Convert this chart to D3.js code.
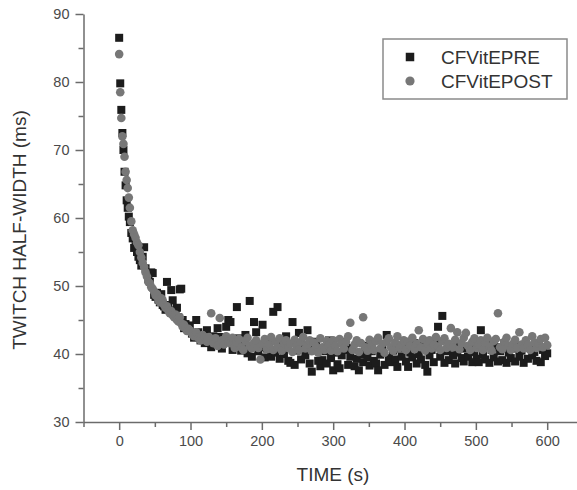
<!DOCTYPE html>
<html>
<head>
<meta charset="utf-8">
<script src="https://cdn.jsdelivr.net/npm/d3@7"></script>
<style>
  body { margin: 0; background: #fff; }
  text { font-family: "Liberation Sans", Arial, sans-serif; }
</style>
</head>
<body>
<div id="grafica"></div>
<script>
// sample times (s), shared by both series
var times = [
  0, 1.5, 3, 4.5, 6, 7.5, 9, 10.5, 12, 13.5, 15,
  17, 19, 21, 23, 25, 27, 29, 31, 33, 35, 37, 39, 41, 43, 45, 47, 49, 51, 53, 55, 57, 59, 61, 63, 65, 67, 69, 71, 73, 75, 77, 79, 81, 83, 85, 87, 89, 91, 93, 95, 97, 99,
  102, 105, 108, 111, 114, 117, 120, 123, 126, 129, 132, 135, 138, 141, 144, 147, 150, 153, 156, 159, 162, 165, 168, 171, 174, 177, 180, 183, 186, 189, 192, 195, 198,
  201, 204, 207, 210, 213, 216, 219, 222, 225, 228, 231, 234, 237, 240, 243, 246, 249, 252, 255, 258, 261, 264, 267, 270, 273, 276, 279, 282, 285, 288, 291, 294, 297, 300,
  303, 306, 309, 312, 315, 318, 321, 324, 327, 330, 333, 336, 339, 342, 345, 348, 351, 354, 357, 360, 363, 366, 369, 372, 375, 378, 381, 384, 387, 390, 393, 396, 399,
  402, 405, 408, 411, 414, 417, 420, 423, 426, 429, 432, 435, 438, 441, 444, 447, 450, 453, 456, 459, 462, 465, 468, 471, 474, 477, 480, 483, 486, 489, 492, 495, 498, 501,
  504, 507, 510, 513, 516, 519, 522, 525, 528, 531, 534, 537, 540, 543, 546, 549, 552, 555, 558, 561, 564, 567, 570, 573, 576, 579, 582, 585, 588, 591, 594, 597, 600
];

// CFVitEPRE (ms)
var preValues = [
  86.5, 79.8, 75.9, 72.5, 70.0, 66.8, 64.8, 62.6, 61.5, 60.2, 59.4,
  57.8, 57.0, 55.6, 56.2, 55.0, 54.3, 53.8, 53.0, 54.3, 55.7, 52.6, 51.8, 51.0, 50.6, 52.0, 51.9, 48.7, 48.4, 49.0, 48.0, 47.6, 48.8, 47.2, 47.0, 46.5, 50.6, 47.2, 46.4, 49.4, 47.9, 46.0, 45.8, 46.8, 45.4, 49.5, 49.6, 45.0, 43.8, 44.4, 44.0, 43.5, 44.2,
  43.0, 42.4, 45.0, 43.2, 42.0, 42.8, 41.6, 43.5, 42.2, 41.0, 42.6, 41.8, 43.8, 42.5, 40.8, 41.9, 44.0, 45.0, 44.7, 40.6, 41.5, 46.9, 42.3, 40.5, 41.2, 42.8, 40.1, 47.8, 39.6, 44.7, 43.2, 40.4, 41.0,
  44.3, 39.5, 40.8, 41.6, 39.6, 46.2, 40.2, 46.9, 39.3, 41.4, 40.0, 42.6, 39.0, 38.7, 44.7, 38.4, 40.5, 43.1, 39.2, 41.0, 39.8, 43.5, 38.6, 37.4, 40.6, 41.8, 39.0, 38.2, 39.1, 40.4, 38.6, 42.0, 39.4, 37.6,
  40.2, 38.5, 37.9, 39.8, 41.8, 40.6, 38.4, 39.6, 40.9, 38.2, 39.3, 37.6, 40.0, 38.8, 41.2, 39.5, 38.3, 40.4, 39.0, 38.6, 37.6, 39.9, 40.6, 38.4, 42.8, 39.4, 38.8, 40.5, 39.2, 38.1, 40.8, 39.6, 41.0,
  38.9, 38.1, 40.2, 39.5, 41.6, 38.6, 40.0, 39.2, 41.2, 38.4, 37.4, 39.8, 40.6, 38.8, 41.5, 44.0, 39.6, 45.6, 38.7, 40.4, 39.1, 41.0, 39.8, 38.6, 40.2, 41.4, 39.4, 38.9, 40.8, 39.6, 41.1, 38.8, 40.3, 39.3,
  38.8, 43.5, 40.0, 39.2, 41.3, 38.7, 40.6, 39.5, 41.0, 38.9, 40.4, 39.1, 41.6, 38.7, 40.2, 39.4, 40.8, 38.9, 41.2, 39.6, 40.5, 38.7, 40.9, 39.3, 41.0, 39.8, 40.3, 39.0, 41.3, 38.8, 40.6, 39.7, 40.1
];

// CFVitEPOST (ms)
var postValues = [
  84.1, 78.5, 74.7, 72.0, 70.9, 69.0, 66.8, 65.6, 64.4, 63.0, 61.5,
  59.5, 58.2, 57.6, 57.1, 56.4, 56.0, 55.0, 54.2, 53.4, 52.8, 52.0, 51.4, 50.6, 50.4, 49.8, 49.6, 49.2, 48.6, 48.8, 48.0, 47.6, 48.2, 47.9, 47.2, 46.8, 47.0, 46.4, 46.0, 46.3, 45.7, 45.4, 45.8, 45.0, 44.8, 45.4, 44.5, 44.0, 44.3, 43.8, 43.4, 43.7, 43.5,
  43.0, 42.6, 43.2, 42.4, 42.0, 42.8, 42.5, 41.8, 42.5, 46.0, 41.6, 42.3, 41.2, 45.3, 42.0, 41.4, 42.6, 41.8, 41.6, 42.4, 40.9, 41.7, 42.2, 41.0, 40.6, 41.9, 42.4, 41.2, 40.8, 41.6, 42.0, 40.9, 39.2,
  41.5, 42.2, 40.7, 41.4, 42.5, 40.6, 41.8, 41.0, 42.3, 40.5, 41.6, 42.0, 40.9, 41.5, 40.3, 42.1, 41.2, 40.6, 41.8, 42.5, 40.8, 41.4, 42.0, 40.4, 41.7, 41.1, 40.2, 42.3, 41.0, 40.6, 41.9, 41.3, 40.5, 42.0,
  41.2, 40.4, 42.2, 41.5, 40.8, 41.8, 42.6, 44.6, 40.6, 41.4, 42.0, 40.3, 41.6, 45.4, 41.0, 40.5, 42.1, 41.3, 40.6, 41.9, 42.4, 40.8, 41.5, 40.2, 41.8, 42.3, 41.0, 40.5, 41.7, 42.6, 40.9, 41.4, 42.0,
  40.6, 41.8, 41.2, 42.4, 40.7, 41.5, 43.5, 41.0, 42.2, 40.5, 41.6, 42.0, 40.8, 41.4, 42.5, 41.1, 40.6, 41.9, 42.3, 40.9, 41.5, 43.8, 41.0, 42.1, 43.2, 40.7, 41.6, 42.4, 43.1, 41.2, 40.6, 41.8, 42.3, 40.9,
  41.4, 42.0, 40.6, 41.7, 42.4, 41.1, 40.5, 41.9, 42.2, 46.0, 41.0, 40.7, 41.8, 42.4, 41.2, 40.6, 41.5, 42.1, 40.9, 43.2, 41.4, 40.8, 42.0, 41.3, 40.6, 42.6, 41.7, 40.9, 41.5, 42.2, 41.0, 42.4, 41.3
];

var xTicks = [0, 100, 200, 300, 400, 500, 600];
var xMinor = [-50, 50, 150, 250, 350, 450, 550];
var yTicks = [30, 40, 50, 60, 70, 80, 90];
var yMinor = [35, 45, 55, 65, 75, 85];
var seriesNames = ["CFVitEPRE", "CFVitEPOST"];

var W = 577, H = 490;
var axisColor = "#6b6b6b", textColor = "#4a4a4a";
var preColor = "#1c1c1c", postColor = "#777777";

var svg = d3.select("#grafica").append("svg")
    .attr("width", W)
    .attr("height", H);

var x = d3.scaleLinear().domain([-50, 645]).range([83.5, 579.3]);
var y = d3.scaleLinear().domain([30, 90]).range([422, 14]);

var pre = times.map(function(t, i) { return {t: t, v: preValues[i]}; });
var post = times.map(function(t, i) { return {t: t, v: postValues[i]}; });

// points
var sq = 8;
svg.append("g").selectAll("rect")
  .data(pre)
  .enter().append("rect")
    .attr("x", function(d) { return x(d.t) - sq / 2; })
    .attr("y", function(d) { return y(d.v) - sq / 2; })
    .attr("width", sq)
    .attr("height", sq)
    .style("fill", preColor);

svg.append("g").selectAll("circle")
  .data(post)
  .enter().append("circle")
    .attr("cx", function(d) { return x(d.t); })
    .attr("cy", function(d) { return y(d.v); })
    .attr("r", 4.3)
    .style("fill", postColor);

// x axis
var xAxis = svg.append("g")
    .attr("transform", "translate(0," + y(30) + ")")
    .call(d3.axisBottom(x).tickValues(xTicks).tickSize(8).tickPadding(6).tickSizeOuter(0));
svg.append("g")
    .attr("transform", "translate(0," + y(30) + ")")
    .call(d3.axisBottom(x).tickValues(xMinor).tickSize(5).tickFormat("").tickSizeOuter(0))
    .select(".domain").remove();

// y axis
var yAxis = svg.append("g")
    .attr("transform", "translate(" + x(-50) + ",0)")
    .call(d3.axisLeft(y).tickValues(yTicks).tickSize(8).tickPadding(6).tickSizeOuter(0));
svg.append("g")
    .attr("transform", "translate(" + x(-50) + ",0)")
    .call(d3.axisLeft(y).tickValues(yMinor).tickSize(5).tickFormat("").tickSizeOuter(0))
    .select(".domain").remove();

svg.selectAll(".domain").attr("stroke", axisColor).attr("stroke-width", 1.5);
svg.selectAll(".tick line").attr("stroke", axisColor).attr("stroke-width", 1.5);
svg.selectAll(".tick text")
    .style("font-size", "14.5px")
    .style("font-family", "'Liberation Sans', Arial, sans-serif")
    .attr("fill", textColor);

// titles
svg.append("text")
    .attr("x", 333)
    .attr("y", 481)
    .attr("text-anchor", "middle")
    .style("font-size", "19px")
    .attr("fill", "#333")
    .text("TIME (s)");

svg.append("text")
    .attr("transform", "translate(26,230) rotate(-90)")
    .attr("text-anchor", "middle")
    .style("font-size", "19px")
    .attr("fill", "#333")
    .text("TWITCH HALF-WIDTH (ms)");

// legend
var leg = svg.append("g");
leg.append("rect")
    .attr("x", 383).attr("y", 39)
    .attr("width", 184).attr("height", 60)
    .style("fill", "#fff")
    .style("stroke", "#8a8a8a")
    .style("stroke-width", 1.5);
leg.append("rect")
    .attr("x", 410 - 4.25).attr("y", 57 - 4.25)
    .attr("width", 8.5).attr("height", 8.5)
    .style("fill", preColor);
leg.append("circle")
    .attr("cx", 410).attr("cy", 81)
    .attr("r", 4.6)
    .style("fill", postColor);
leg.selectAll(".lt")
  .data(seriesNames)
  .enter().append("text")
    .attr("class", "lt")
    .attr("x", 441)
    .attr("y", function(d, i) { return 64 + i * 24; })
    .style("font-size", "19px")
    .attr("fill", "#333")
    .text(function(d) { return d; });
</script>
</body>
</html>
